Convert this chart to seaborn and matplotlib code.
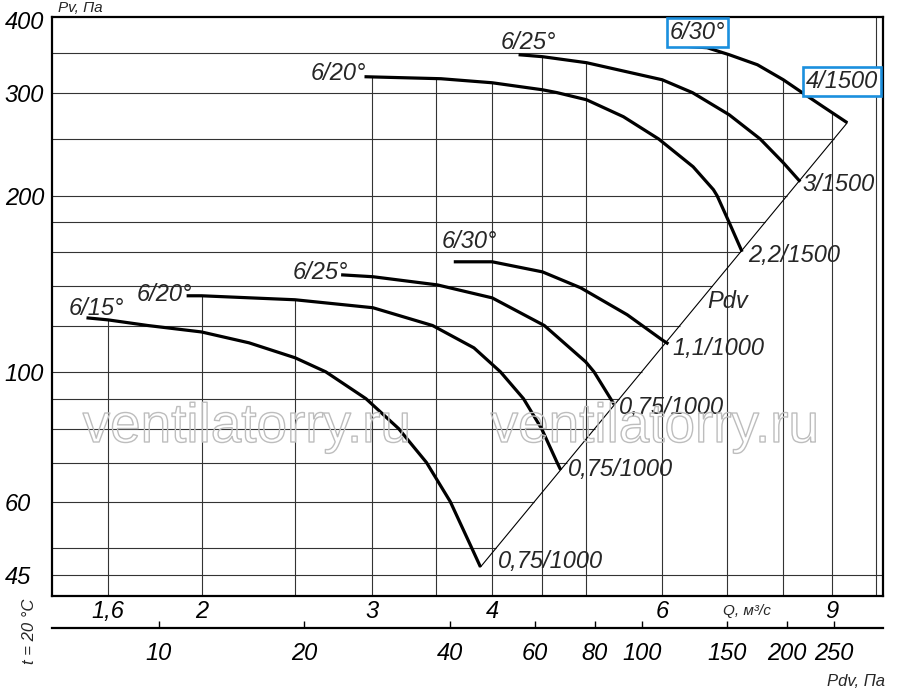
import numpy as np
import pandas as pd
import seaborn as sns
import matplotlib.pyplot as plt
import matplotlib.patheffects as pe
from matplotlib.ticker import NullLocator

# Fan curves: Q in m3/s, Pv in Pa
# lower group, 1000 rpm motors
q_615 = [1.52, 1.60, 1.76, 2.00, 2.24, 2.50, 2.69, 2.96, 3.20, 3.42, 3.62, 3.81, 3.89]
p_615 = [123.7, 122.7, 120.0, 117.0, 112.1, 105.7, 100.0, 90.0, 80.0, 70.0, 60.0, 50.0, 46.4]
q_620 = [1.93, 2.00, 2.50, 3.01, 3.47, 3.83, 4.08, 4.31, 4.50, 4.67, 4.71]
p_620 = [134.9, 134.9, 132.8, 128.7, 120.0, 109.9, 100.0, 90.0, 80.0, 70.0, 68.0]
q_625 = [2.79, 3.01, 3.51, 4.00, 4.53, 5.00, 5.10, 5.35]
p_625 = [146.5, 145.4, 140.8, 133.8, 120.0, 104.0, 100.0, 88.0]
q_630 = [3.65, 4.00, 4.51, 4.94, 5.52, 6.00, 6.09]
p_630 = [154.2, 154.2, 148.2, 139.2, 125.2, 113.4, 111.6]
# upper group, 1500 rpm motors
q_h20 = [2.95, 3.54, 4.00, 4.51, 4.67, 5.01, 5.47, 5.95, 6.46, 6.78, 6.84, 7.04, 7.26]
p_h20 = [319.4, 316.9, 311.9, 303.4, 300.0, 291.7, 272.9, 250.0, 224.1, 204.8, 200.0, 180.0, 160.4]
q_h25 = [4.26, 4.51, 5.01, 6.00, 6.45, 7.04, 7.58, 8.01, 8.34]
p_h25 = [348.3, 345.6, 337.5, 315.6, 300.0, 275.0, 250.0, 227.7, 211.3]
q_h30 = [6.22, 6.68, 7.04, 7.53, 8.01, 8.38, 8.81, 9.33]
p_h30 = [360.8, 358.0, 348.3, 334.8, 315.6, 300.0, 283.8, 266.5]

start_labels = ['6/15°', '6/20°', '6/25°', '6/30°', '6/20°', '6/25°', '6/30°']
end_labels = ['0,75/1000', '0,75/1000', '0,75/1000', '1,1/1000', '2,2/1500', '3/1500', '4/1500']

# chart grid and scales
grid_p = [45, 50, 60, 70, 80, 90, 100, 120, 140, 160, 180, 200, 250, 300, 350]
grid_q = [1.6, 2, 2.5, 3, 3.5, 4, 4.5, 5, 6, 7, 8, 9, 10]
ytick_vals = [45, 60, 100, 200, 300, 400]
ytick_text = ['45', '60', '100', '200', '300', '400']
xtick_vals = [1.6, 2, 3, 4, 6, 9]
xtick_text = ['1,6', '2', '3', '4', '6', '9']
pdv_ticks = [10, 20, 40, 60, 80, 100, 150, 200, 250]

curves = [(q_615, p_615), (q_620, p_620), (q_625, p_625), (q_630, p_630),
          (q_h20, p_h20), (q_h25, p_h25), (q_h30, p_h30)]

sns.set_theme(style='white')
plt.rcParams['font.family'] = ['Liberation Sans', 'DejaVu Sans']
plt.rcParams['font.style'] = 'italic'

fig = plt.figure(figsize=(9, 6.94), dpi=100)
ax = fig.add_axes([52/900, 1-596/694, 831/900, 579/694])
ax.set_xscale('log')
ax.set_yscale('log')
xlo, xhi = 1.40, 10.16
ylo, yhi = 41.4, 404
ax.set_xlim(xlo, xhi)
ax.set_ylim(ylo, yhi)

# dynamic pressure line through the curve ends
dq = [q_615[-1], q_h30[-1]]
dp = [p_615[-1], p_h30[-1]]
k_dyn = np.sqrt((dp[0]/dq[0]**2) * (dp[1]/dq[1]**2))

def diag_q(p):
    lq = np.log10(dq)
    lp = np.log10(dp)
    return 10 ** (lq[0] + (np.log10(p) - lp[0]) * (lq[1]-lq[0]) / (lp[1]-lp[0]))

# grid is drawn only inside the field bounded by the curves and the Pdv line
grid_kw = dict(color='#333333', linewidth=0.8, zorder=1)
for p in grid_p:
    if p < dp[0]:
        qend = xhi
    elif p <= dp[1]:
        qend = diag_q(p)
    else:
        qend = np.interp(p, p_h30[::-1], q_h30[::-1])
    ax.hlines(p, xlo, qend, **grid_kw)

for q in grid_q:
    tops = [np.interp(q, cq, cp) for cq, cp in curves if cq[0] <= q <= cq[-1]]
    top = max(tops) if tops else yhi
    ax.vlines(q, ylo, top, **grid_kw)

ax.plot(dq, dp, color='black', linewidth=0.8, zorder=2)

for cq, cp in curves:
    sns.lineplot(x=cq, y=cp, ax=ax, color='black', linewidth=2.3,
                 estimator=None, sort=False, solid_capstyle='butt',
                 solid_joinstyle='round', zorder=3)

fs = 17
box = dict(boxstyle='square,pad=0.12', fc='white', ec='#1b8fde', lw=1.9)
# offsets in pixels for labels at curve starts and ends
start_off = [(10, 3, 'center'), (6, -5, 'right'), (7, -4, 'right'), (16, 14, 'center'),
             (2, -3, 'right'), (10, 6, 'center'), (20, 7, 'center')]
end_off = [(17, 6, 'left'), (7, 0, 'left'), (5, -3, 'left'), (4, -5, 'left'),
           (6, -4, 'left'), (2, -3, 'left'), (-5, 41, 'center')]
for i, (cq, cp) in enumerate(curves):
    dx, dy, ha = start_off[i]
    ax.annotate(start_labels[i], (cq[0], cp[0]), xytext=(dx*0.72, dy*0.72),
                textcoords='offset points', ha=ha, va='baseline', fontsize=fs,
                zorder=5, bbox=box if i == 6 else None)
    dx, dy, ha = end_off[i]
    ax.annotate(end_labels[i], (cq[-1], cp[-1]), xytext=(dx*0.72, dy*0.72),
                textcoords='offset points', ha=ha, va='center', fontsize=fs,
                zorder=5, bbox=box if i == 6 else None)

ax.text(7.02, 132, 'Pdv', ha='center', va='center', fontsize=fs)

# watermark
for xc in [247, 655]:
    fig.text(xc/900, 1-442/694, 'ventilatorry.ru', ha='center', va='baseline',
             fontsize=39.5, style='normal', color='none', zorder=0,
             path_effects=[pe.Stroke(linewidth=1.0, foreground='#bdbdbd')])

# axes styling
for s in ax.spines.values():
    s.set_color('black')
    s.set_linewidth(1.6)
ax.set_yticks(ytick_vals, ytick_text)
ax.set_xticks(xtick_vals, xtick_text)
ax.xaxis.set_minor_locator(NullLocator())
ax.yaxis.set_minor_locator(NullLocator())
ax.tick_params(axis='y', length=0, pad=34, labelsize=fs, labelcolor='black')
ax.tick_params(axis='x', length=0, pad=3, labelsize=fs, labelcolor='black')
for lab in ax.get_yticklabels():
    lab.set_horizontalalignment('left')

# dynamic pressure scale under the flow axis
sec = ax.secondary_xaxis(-32/579, functions=(lambda q: k_dyn*np.asarray(q)**2,
                                             lambda p: np.sqrt(np.maximum(p, 1e-9)/k_dyn)))
sec.set_xticks(pdv_ticks, [str(v) for v in pdv_ticks])
sec.xaxis.set_minor_locator(NullLocator())
sec.tick_params(axis='x', direction='in', length=5, width=1.0, pad=10,
                labelsize=fs, color='black', labelcolor='black')
sec.spines['bottom'].set_linewidth(1.6)
sec.spines['bottom'].set_color('black')

fig.text(58/900, 1-8/694, 'Pv, Па', ha='left', va='center', fontsize=11)
fig.text(747/900, 1-611/694, 'Q, м³/с', ha='center', va='center', fontsize=11)
fig.text(856/900, 1-681/694, 'Pdv, Па', ha='center', va='center', fontsize=12)
fig.text(29/900, 1-631/694, 't = 20 °C', ha='center', va='center', fontsize=12, rotation=90)

fig.savefig('out.png', dpi=100)
plt.close(fig)
